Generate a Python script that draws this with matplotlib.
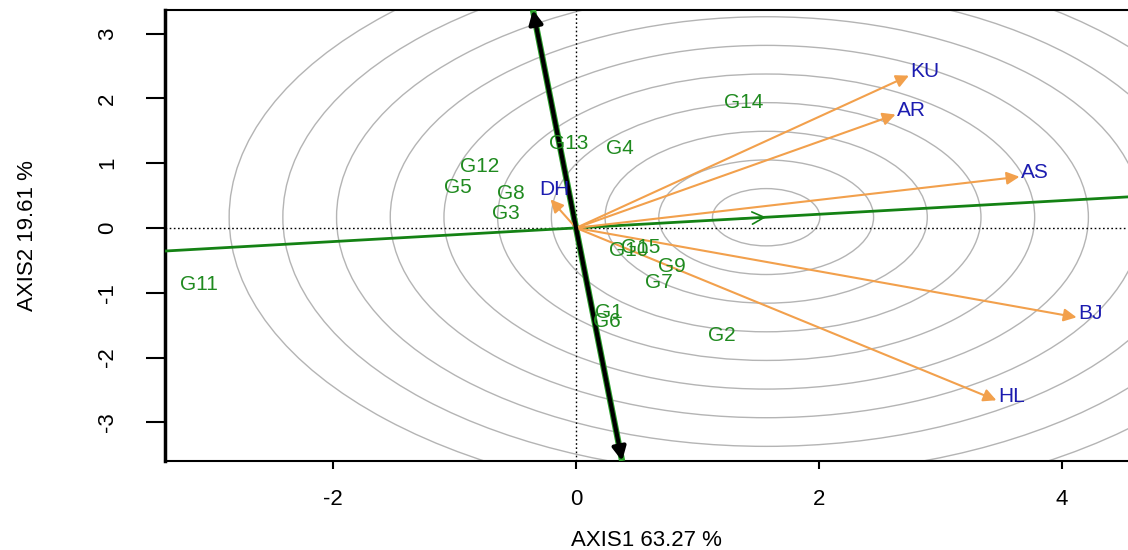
import matplotlib
matplotlib.use('Agg')
import matplotlib.pyplot as plt
from matplotlib.patches import Circle
import numpy as np

plt.rcParams['font.family'] = ['Liberation Sans', 'DejaVu Sans']

# genotype scores
genotypes = ['G1', 'G2', 'G3', 'G4', 'G5', 'G6', 'G7', 'G8', 'G9', 'G10',
             'G11', 'G12', 'G13', 'G14', 'G15']
g_x = [0.27, 1.20, -0.58, 0.36, -0.97, 0.25, 0.68, -0.54, 0.79, 0.43,
       -3.10, -0.79, -0.06, 1.38, 0.53]
g_y = [-1.30, -1.66, 0.22, 1.22, 0.62, -1.45, -0.85, 0.53, -0.59, -0.35,
       -0.87, 0.95, 1.31, 1.93, -0.30]

# environment vectors
envs = ['KU', 'AR', 'AS', 'BJ', 'HL', 'DH']
e_x = [2.74, 2.63, 3.65, 4.12, 3.46, -0.21]
e_y = [2.35, 1.75, 0.79, -1.38, -2.66, 0.44]

# average environment coordinate and ring spacing
aec = [1.565, 0.165]
ring_step = 0.442
n_rings = 10

x_label = 'AXIS1 63.27 %'
y_label = 'AXIS2 19.61 %'
x_ticks = [-2, 0, 2, 4]
y_ticks = [-3, -2, -1, 0, 1, 2, 3]

GREEN = '#1f8a1f'
LINE_GREEN = '#148214'
BLUE = '#1c1cb0'
ORANGE = '#f2a04c'

fig = plt.figure(figsize=(11.28, 5.5), dpi=100)
ax = fig.add_axes([165 / 1128, 89 / 550, 963 / 1128, 451 / 550])
xlim = (-3.383, 4.543)
ylim = (-3.597, 3.363)
ax.set_xlim(*xlim)
ax.set_ylim(*ylim)

# concentric rings around the AEC point
for k in range(1, n_rings + 1):
    ax.add_patch(Circle(aec, k * ring_step, fill=False, ec='#b4b4b4', lw=1.0, zorder=1))

# reference dotted axes
ax.axhline(0, color='black', ls=(0, (1.2, 1.8)), lw=1.0, zorder=2)
ax.axvline(0, color='black', ls=(0, (1.2, 1.8)), lw=1.0, zorder=2)

# AEC abscissa through origin
slope = aec[1] / aec[0]
xs = np.array(xlim)
ax.plot(xs, slope * xs, color=LINE_GREEN, lw=2.0, zorder=3)
ax.annotate('', xy=aec, xytext=(aec[0] - 0.25, aec[1] - 0.25 * slope),
            arrowprops=dict(arrowstyle='->', color=LINE_GREEN, lw=1.2,
                            mutation_scale=22, shrinkA=0, shrinkB=0), zorder=4)

# AEC ordinate, perpendicular, arrows at both ends
ys = np.array(ylim)
xo = -slope * ys
ax.plot(xo, ys, color='#2aa02a', lw=4.5, zorder=3, solid_capstyle='butt')
ax.annotate('', xy=(xo[1], ys[1]), xytext=(xo[0], ys[0]),
            arrowprops=dict(arrowstyle='<|-|>', color='black', lw=3.0,
                            mutation_scale=20, shrinkA=0, shrinkB=0), zorder=5)

# environment vectors
for name, x, y in zip(envs, e_x, e_y):
    ax.annotate('', xy=(x, y), xytext=(0, 0),
                arrowprops=dict(arrowstyle='-|>', color=ORANGE, lw=1.5,
                                mutation_scale=19, shrinkA=0, shrinkB=0), zorder=4)
    if name == 'DH':
        ax.annotate(name, (x, y), xytext=(3, 0), textcoords='offset points',
                    ha='center', va='bottom', color=BLUE, fontsize=15, zorder=6)
    else:
        ax.annotate(name, (x, y), xytext=(1, 3), textcoords='offset points',
                    ha='left', va='center', color=BLUE, fontsize=15, zorder=6)

# genotype labels
for name, x, y in zip(genotypes, g_x, g_y):
    ax.text(x, y, name, ha='center', va='center', color=GREEN, fontsize=15, zorder=6)

ax.spines['right'].set_visible(False)
for s in ['left', 'bottom', 'top']:
    ax.spines[s].set_linewidth(1.5)
ax.spines['left'].set_linewidth(2.5)

ax.set_xticks(x_ticks)
ax.set_yticks(y_ticks)
ax.set_xticklabels([str(t) for t in x_ticks])
ax.set_yticklabels([str(t) for t in y_ticks])
ax.tick_params(axis='x', length=6, width=1.5, pad=14, labelsize=16)
ax.tick_params(axis='y', length=14, width=1.5, pad=20, labelsize=16, labelrotation=90)
for lab in ax.get_yticklabels():
    lab.set_va('center')

ax.set_xlabel(x_label, fontsize=16)
ax.xaxis.label.set_va('center')
ax.xaxis.set_label_coords(0.5, -(540 - 461) / 451)
ax.set_ylabel(y_label, fontsize=16)
ax.yaxis.label.set_va('center')
ax.yaxis.set_label_coords(-(165 - 28) / 963, 0.5)

fig.savefig('out.png', dpi=100)
